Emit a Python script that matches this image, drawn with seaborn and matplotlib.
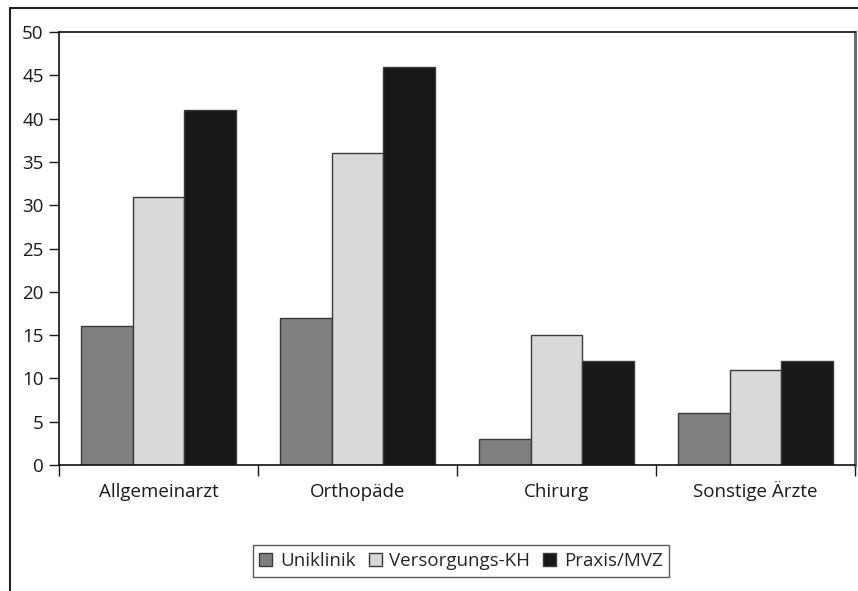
import matplotlib
matplotlib.use("Agg")
import matplotlib.pyplot as plt
from matplotlib.lines import Line2D
from matplotlib.ticker import FixedLocator
import pandas as pd
import seaborn as sns

categories = ["Allgemeinarzt", "Orthopäde", "Chirurg", "Sonstige Ärzte"]
series = ["Uniklinik", "Versorgungs-KH", "Praxis/MVZ"]
uniklinik = [16, 17, 3, 6]
versorgungs_kh = [31, 36, 15, 11]
praxis_mvz = [41, 46, 12, 12]
colors = ["#808080", "#d9d9d9", "#161818"]

rows = []
for name, vals in zip(series, [uniklinik, versorgungs_kh, praxis_mvz]):
    for cat, v in zip(categories, vals):
        rows.append({"Kategorie": cat, "Gruppe": name, "Wert": v})
df = pd.DataFrame(rows)

sns.set_theme(style="white")
plt.rcParams["font.family"] = ["Open Sans", "DejaVu Sans"]
FS = 13.5

fig = plt.figure(figsize=(8.58, 5.91), dpi=100)
ax = fig.add_axes([59 / 858, 1 - 465 / 591, (855 - 59) / 858, (465 - 32) / 591])

sns.barplot(data=df, x="Kategorie", y="Wert", hue="Gruppe", order=categories,
            hue_order=series, palette=colors, width=0.78, gap=0,
            edgecolor="#3a3a3a", linewidth=1.0, saturation=1, ax=ax, legend=True)

ax.set_xlim(-0.5, len(categories) - 0.5)
ax.set_ylim(0, 50)
ax.set_yticks(range(0, 51, 5))
ax.set_xlabel("")
ax.set_ylabel("")

# category separators as ticks on the x axis
ax.xaxis.set_minor_locator(FixedLocator([i + 0.5 for i in range(-1, len(categories))]))
ax.tick_params(axis="x", which="major", length=0, pad=23, labelsize=FS, colors="#1a1a1a")
ax.tick_params(axis="x", which="minor", bottom=True, length=8, width=1, color="#1a1a1a")
ax.tick_params(axis="y", which="major", left=True, length=7, width=1, pad=4,
               labelsize=FS, color="#1a1a1a", labelcolor="#1a1a1a")
for lbl in ax.get_xticklabels():
    lbl.set_verticalalignment("baseline")

for side in ["left", "bottom", "top"]:
    ax.spines[side].set_visible(True)
    ax.spines[side].set_color("#111111")
    ax.spines[side].set_linewidth(1.2)
ax.spines["right"].set_visible(True)
ax.spines["right"].set_color("#6e6e6e")
ax.spines["right"].set_linewidth(2.2)

handles, labels = ax.get_legend_handles_labels()
ax.get_legend().remove()
leg = fig.legend(handles, labels, loc="center", bbox_to_anchor=(461 / 858, 1 - 561 / 591),
                 ncol=3, frameon=True, fancybox=False, fontsize=FS,
                 handlelength=0.7, handleheight=0.7, handletextpad=0.4,
                 columnspacing=0.7, borderpad=0.35, edgecolor="#333333")
leg.get_frame().set_linewidth(1.0)

# outer frame around the figure
fig.add_artist(Line2D([10 / 858, 10 / 858], [0, 1 - 8 / 591], transform=fig.transFigure,
                      color="#222222", lw=1.5))
fig.add_artist(Line2D([10 / 858, 1], [1 - 8 / 591, 1 - 8 / 591], transform=fig.transFigure,
                      color="#222222", lw=1.5))

fig.savefig("out.png", dpi=100, facecolor="white")
